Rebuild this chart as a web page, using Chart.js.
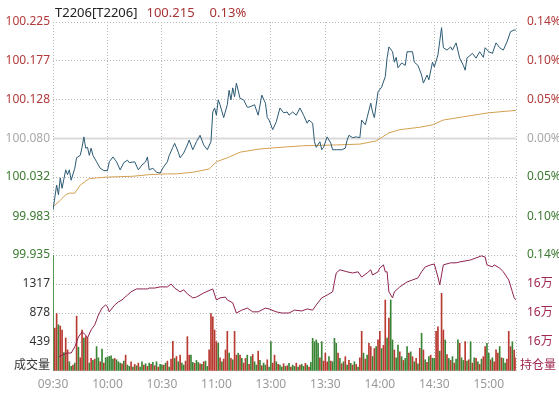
<!DOCTYPE html>
<html>
<head>
<meta charset="utf-8">
<script src="https://cdn.jsdelivr.net/npm/chart.js@4.4.1/dist/chart.umd.min.js"></script>
<style>
  body { margin: 0; background: #fff; }
  #wrap { position: relative; width: 559px; height: 393px; font-family: 'Noto Sans', 'Noto Sans CJK SC', sans-serif; }
  .lbl { position: absolute; font-size: 12px; line-height: 16px; white-space: nowrap; }
</style>
</head>
<body>
<div id="wrap">
  <canvas id="c" width="559" height="393"></canvas>
  <div class="lbl" style="left:55px; top:3px; font-size:13px; line-height:18px;">
    <span id="code" style="color:#222"></span><span id="last" style="color:#a83232; margin-left:9px"></span><span id="chg" style="color:#a83232; margin-left:15px"></span>
  </div>
  <div class="lbl" style="right:509px; top:357px; color:#333">成交量</div>
  <div class="lbl" style="left:520px; top:357px; color:#a0284e">持仓量</div>
</div>
<script>
// header
const contractName = 'T2206[T2206]';
const lastPrice = '100.215';
const lastChange = '0.13%';

// axes
const timeTicks = ['09:30', '10:00', '10:30', '11:00', '13:00', '13:30', '14:00', '14:30', '15:00'];
const prevClose = 100.080;
const priceTicks = [100.225, 100.177, 100.128, 100.080, 100.032, 99.983, 99.935];
const pctLabels = ['0.14%', '0.10%', '0.05%', '0.00%', '0.05%', '0.10%', '0.14%'];
const volTicks = [0, 439, 878, 1317, 1756];
const oiTicks = [160000, 161000, 162000, 163000, 164000];

// last price
const priceSeries = [
  ['09:30', 99.991], ['09:32', 100.022], ['09:33', 100.010], ['09:34', 100.031], ['09:35', 100.018],
  ['09:37', 100.041], ['09:38', 100.035], ['09:39', 100.041], ['09:40', 100.028], ['09:42', 100.043],
  ['09:43', 100.056], ['09:45', 100.059], ['09:46', 100.069], ['09:47', 100.082], ['09:48', 100.068],
  ['09:49', 100.069], ['09:50', 100.059], ['09:51', 100.068], ['09:52', 100.059], ['09:54', 100.051],
  ['09:56', 100.043], ['09:58', 100.040], ['10:00', 100.040], ['10:01', 100.051], ['10:03', 100.057],
  ['10:05', 100.051], ['10:07', 100.041], ['10:09', 100.050], ['10:11', 100.053], ['10:12', 100.050],
  ['10:15', 100.051], ['10:17', 100.041], ['10:19', 100.047], ['10:21', 100.051], ['10:22', 100.057],
  ['10:23', 100.041], ['10:25', 100.043], ['10:27', 100.038], ['10:29', 100.037], ['10:31', 100.045],
  ['10:33', 100.051], ['10:34', 100.059], ['10:36', 100.069], ['10:37', 100.074], ['10:39', 100.063],
  ['10:40', 100.056], ['10:42', 100.062], ['10:44', 100.072], ['10:45', 100.078], ['10:47', 100.066],
  ['10:49', 100.076], ['10:51', 100.084], ['10:53', 100.072], ['10:55', 100.066], ['10:57', 100.076],
  ['10:58', 100.113], ['10:59', 100.118], ['11:00', 100.109], ['11:01', 100.128], ['11:02', 100.122],
  ['11:04', 100.106], ['11:06', 100.122], ['11:07', 100.140], ['11:08', 100.128], ['11:09', 100.143],
  ['11:10', 100.132], ['11:11', 100.149], ['11:13', 100.130], ['11:15', 100.128], ['11:17', 100.119],
  ['11:18', 100.119], ['11:21', 100.122], ['11:23', 100.109], ['11:25', 100.134], ['11:27', 100.124],
  ['11:28', 100.106], ['11:29', 100.103], ['13:01', 100.091], ['13:03', 100.101], ['13:05', 100.118],
  ['13:07', 100.112], ['13:09', 100.113], ['13:10', 100.109], ['13:12', 100.113], ['13:14', 100.109],
  ['13:16', 100.118], ['13:18', 100.109], ['13:20', 100.099], ['13:21', 100.103], ['13:23', 100.099],
  ['13:24', 100.076], ['13:25', 100.069], ['13:27', 100.076], ['13:28', 100.066], ['13:29', 100.069],
  ['13:31', 100.082], ['13:32', 100.078], ['13:33', 100.074], ['13:34', 100.066], ['13:36', 100.066],
  ['13:39', 100.066], ['13:41', 100.068], ['13:42', 100.078], ['13:43', 100.084], ['13:45', 100.081],
  ['13:47', 100.082], ['13:49', 100.081], ['13:50', 100.103], ['13:52', 100.097], ['13:53', 100.106],
  ['13:55', 100.124], ['13:56', 100.113], ['13:57', 100.106], ['13:59', 100.138], ['14:01', 100.144],
  ['14:03', 100.157], ['14:04', 100.180], ['14:05', 100.194], ['14:07', 100.188], ['14:08', 100.175],
  ['14:09', 100.181], ['14:10', 100.168], ['14:12', 100.174], ['14:14', 100.171], ['14:15', 100.188],
  ['14:18', 100.188], ['14:19', 100.175], ['14:21', 100.171], ['14:23', 100.159], ['14:24', 100.149],
  ['14:26', 100.159], ['14:27', 100.153], ['14:29', 100.175], ['14:30', 100.169], ['14:32', 100.184],
  ['14:34', 100.218], ['14:35', 100.193], ['14:37', 100.190], ['14:39', 100.194], ['14:40', 100.190],
  ['14:42', 100.199], ['14:44', 100.180], ['14:46', 100.171], ['14:47', 100.165], ['14:48', 100.180],
  ['14:51', 100.186], ['14:53', 100.180], ['14:55', 100.188], ['14:57', 100.181], ['14:58', 100.193],
  ['15:00', 100.188], ['15:02', 100.186], ['15:04', 100.199], ['15:06', 100.193], ['15:08', 100.190],
  ['15:10', 100.200], ['15:12', 100.213], ['15:14', 100.215], ['15:15', 100.215]
];

// average price
const avgSeries = [
  ['09:30', 99.995], ['09:34', 100.003], ['09:37', 100.010], ['09:39', 100.012], ['09:42', 100.012],
  ['09:45', 100.022], ['09:48', 100.027], ['09:50', 100.030], ['09:54', 100.031], ['10:00', 100.032],
  ['10:14', 100.033], ['10:23', 100.035], ['10:33', 100.036], ['10:38', 100.036], ['10:47', 100.038],
  ['10:56', 100.042], ['11:00', 100.051], ['11:06', 100.056], ['11:13', 100.063], ['11:24', 100.067],
  ['13:05', 100.069], ['13:18', 100.071], ['13:36', 100.072], ['13:49', 100.073], ['13:58', 100.077],
  ['14:05', 100.087], ['14:11', 100.091], ['14:22', 100.094], ['14:29', 100.097], ['14:35', 100.103],
  ['14:46', 100.107], ['15:00', 100.112], ['15:10', 100.114], ['15:15', 100.115]
];

// open interest
const oiSeries = [
  ['09:33', 160480], ['09:35', 160550], ['09:38', 160620], ['09:40', 160620], ['09:42', 160830],
  ['09:44', 161170], ['09:46', 161350], ['09:48', 161240], ['09:49', 161140], ['09:51', 161420],
  ['09:53', 161590], ['09:55', 161930], ['09:57', 162170], ['09:59', 162280], ['10:00', 162210],
  ['10:01', 162040], ['10:04', 162280], ['10:06', 162380], ['10:08', 162450], ['10:11', 162620],
  ['10:13', 162730], ['10:16', 162830], ['10:20', 162830], ['10:22', 162830], ['10:23', 162860],
  ['10:26', 162860], ['10:29', 162900], ['10:33', 162900], ['10:35', 163000], ['10:37', 162860],
  ['10:40', 162730], ['10:42', 162800], ['10:44', 162660], ['10:47', 162520], ['10:49', 162550],
  ['10:53', 162690], ['10:58', 162830], ['11:00', 162450], ['11:02', 162520], ['11:05', 162550],
  ['11:06', 162450], ['11:09', 162350], ['11:11', 162000], ['11:14', 162100], ['11:17', 162170],
  ['11:20', 162040], ['11:23', 162040], ['11:27', 162170], ['11:29', 162140], ['13:03', 162040],
  ['13:06', 162000], ['13:10', 162000], ['13:13', 162100], ['13:17', 162070], ['13:20', 162140],
  ['13:23', 162100], ['13:25', 162280], ['13:28', 162520], ['13:31', 162620], ['13:34', 162730],
  ['13:35', 163070], ['13:36', 163380], ['13:38', 163490], ['13:42', 163420], ['13:45', 163380],
  ['13:48', 163420], ['13:50', 163240], ['13:53', 163380], ['13:55', 163490], ['13:56', 163310],
  ['13:59', 163420], ['14:00', 163550], ['14:02', 163660], ['14:03', 163420], ['14:04', 163420],
  ['14:05', 162730], ['14:07', 162520], ['14:08', 162730], ['14:11', 162900], ['14:15', 163070],
  ['14:18', 163140], ['14:21', 163210], ['14:23', 163420], ['14:25', 163590], ['14:28', 163660],
  ['14:30', 163690], ['14:32', 163240], ['14:33', 162970], ['14:35', 163660], ['14:39', 163730],
  ['14:42', 163730], ['14:44', 163760], ['14:50', 163830], ['14:53', 163900], ['14:56', 163970],
  ['14:58', 163930], ['14:59', 163660], ['15:02', 163590], ['15:03', 163660], ['15:06', 163550],
  ['15:08', 163420], ['15:11', 163140], ['15:13', 162730], ['15:14', 162520], ['15:15', 162450]
];

// volume per minute from 09:30 (u = up minute, d = down minute)
const volume = [
  1750, 650, 870, 700, 680, 620, 280, 500, 320, 140, 70, 90, 120, 830, 360, 200, 620, 500, 520, 500, 120, 190, 160, 180, 370, 200, 140, 330, 120, 200,
  210, 220, 230, 180, 190, 170, 140, 120, 110, 150, 240, 90, 70, 140, 60, 100, 80, 120, 60, 140, 90, 110, 70, 120, 100, 130, 80, 140, 60, 100,
  90, 90, 120, 150, 60, 180, 450, 190, 220, 140, 240, 120, 90, 150, 520, 240, 240, 130, 116, 160, 130, 110, 100, 140, 150, 70, 320, 870, 820, 620,
  444, 420, 200, 140, 180, 318, 600, 270, 190, 170, 600, 240, 270, 240, 190, 120, 190, 240, 100, 220, 250, 140, 90, 300, 160, 80, 120, 90, 170, 60,
  444, 120, 240, 140, 100, 90, 60, 110, 70, 80, 116, 60, 90, 70, 120, 60, 90, 100, 70, 116, 90, 60, 130, 495, 444, 470, 420, 200, 444, 150,
  270, 140, 217, 150, 141, 495, 420, 270, 190, 110, 140, 217, 90, 160, 116, 90, 140, 100, 60, 200, 600, 270, 180, 240, 420, 370, 220, 340, 370, 470,
  600, 340, 390, 1075, 500, 802, 1075, 470, 318, 200, 394, 290, 217, 160, 190, 368, 270, 290, 217, 140, 190, 110, 343, 571, 318, 170, 130, 220, 240, 192,
  192, 600, 670, 300, 1176, 620, 470, 250, 190, 160, 217, 120, 180, 470, 420, 200, 160, 444, 150, 170, 444, 120, 200, 190, 140, 100, 180, 217, 370, 420,
  270, 170, 200, 140, 320, 270, 370, 200, 190, 120, 180, 600, 368, 444, 318, 200
];
const volSide = [
  'duuduuduud', 'dududuuduu', 'dududdudud',
  'ddddudddud', 'uddudududd', 'ududududud',
  'dududuudud', 'udduuuddud', 'dududduuuu',
  'ududuuudud', 'uududuudud', 'uddududdud',
  'duududdudu', 'duddududdu', 'dudddddudu',
  'uududddudu', 'dududududu', 'ududuududu',
  'uduududdud', 'dududdudud', 'ududududud',
  'duuduududu', 'dudduddudu', 'dudududuud',
  'duduuududduuuduu'
].join('');

function minuteOf(t) {
  const [h, m] = t.split(':').map(Number);
  let n = h * 60 + m - 570;
  if (h >= 13) n -= 90;
  return n;
}

function toPoints(series) {
  return series.map(([t, v]) => ({ x: minuteOf(t), y: v }));
}

function priceColor(v) {
  if (Math.abs(v - prevClose) < 1e-9) return '#a8a8a8';
  return v > prevClose ? '#b23a3a' : '#3b7a30';
}

document.getElementById('code').textContent = contractName;
document.getElementById('last').textContent = lastPrice;
document.getElementById('chg').textContent = lastChange;

const font = { family: "'Noto Sans', 'Noto Sans CJK SC', sans-serif", size: 12 };
const gridColor = '#b8b8b8';
const sessionEnd = 255;

new Chart(document.getElementById('c'), {
  type: 'line',
  data: {
    datasets: [
      {
        data: toPoints(priceSeries), yAxisID: 'yP',
        borderColor: '#2b5a74', borderWidth: 1, pointRadius: 0, order: 1
      },
      {
        data: toPoints(avgSeries), yAxisID: 'yP',
        borderColor: '#d4a050', borderWidth: 1, pointRadius: 0, order: 2
      },
      {
        data: toPoints(oiSeries), yAxisID: 'yOI',
        borderColor: '#8e2250', borderWidth: 1, pointRadius: 0, order: 3
      },
      {
        type: 'bar', yAxisID: 'yV', order: 4,
        data: volume.map((v, i) => ({ x: i, y: v })),
        backgroundColor: volume.map((v, i) => volSide[i] === 'u' ? '#b83a30' : '#3a8535'),
        barThickness: 1
      },
      {
        data: [{ x: 0, y: prevClose }, { x: sessionEnd, y: prevClose }], yAxisID: 'yP',
        borderColor: '#dadada', borderWidth: 2, pointRadius: 0, order: 5
      }
    ]
  },
  options: {
    responsive: false,
    animation: false,
    events: [],
    layout: { padding: { top: 22 }, autoPadding: false },
    plugins: { legend: { display: false }, tooltip: { enabled: false } },
    scales: {
      x: {
        type: 'linear', min: 0, max: sessionEnd, offset: false,
        afterBuildTicks: s => { s.ticks = timeTicks.map(t => ({ value: minuteOf(t) })).concat([{ value: sessionEnd }]); },
        ticks: {
          font, color: '#999', padding: 6, maxRotation: 0, autoSkip: false,
          callback: (v, i) => timeTicks[i] || ''
        },
        grid: { color: gridColor, drawTicks: false, offset: false },
        border: { display: false, dash: [1, 2] },
        afterFit: s => { s.height = 22; }
      },
      yP: {
        type: 'linear', position: 'left', stack: 'L', stackWeight: 233, weight: 1,
        min: 99.935, max: 100.225,
        afterBuildTicks: s => { s.ticks = priceTicks.map(v => ({ value: v })); },
        ticks: {
          font, padding: 3, autoSkip: false,
          color: c => priceColor(c.tick.value),
          callback: v => v.toFixed(3)
        },
        grid: { drawTicks: false, color: c => (c.tick && c.tick.value === prevClose) ? 'rgba(0,0,0,0)' : gridColor },
        border: { display: false, dash: [1, 2] },
        afterFit: s => { s.width = 53; }
      },
      yV: {
        type: 'linear', position: 'left', stack: 'L', stackWeight: 116, weight: 0,
        min: 0, max: 1756,
        afterBuildTicks: s => { s.ticks = volTicks.map(v => ({ value: v })); },
        ticks: {
          font, padding: 3, autoSkip: false, color: '#333',
          callback: (v, i) => (i === 0 || i === volTicks.length - 1) ? '' : String(v)
        },
        grid: { drawTicks: false, color: c => c.index === 0 ? 'rgba(0,0,0,0)' : gridColor },
        border: { display: false, dash: [1, 2] },
        afterFit: s => { s.width = 53; }
      },
      yPct: {
        type: 'linear', position: 'right', stack: 'R', stackWeight: 233, weight: 0,
        min: 99.935, max: 100.225,
        afterBuildTicks: s => { s.ticks = priceTicks.map(v => ({ value: v })); },
        ticks: {
          font, padding: 3, autoSkip: false,
          color: c => priceColor(c.tick.value),
          callback: (v, i) => pctLabels[i]
        },
        grid: { display: false },
        border: { display: false },
        afterFit: s => { s.width = 43; }
      },
      yOI: {
        type: 'linear', position: 'right', stack: 'R', stackWeight: 116, weight: 1,
        min: 160000, max: 164000,
        afterBuildTicks: s => { s.ticks = oiTicks.map(v => ({ value: v })); },
        ticks: {
          font, padding: 3, autoSkip: false, color: '#a0284e',
          callback: (v, i) => (i === 0 || i === oiTicks.length - 1) ? '' : Math.round(v / 10000) + '万'
        },
        grid: { display: false },
        border: { display: false },
        afterFit: s => { s.width = 43; }
      }
    }
  }
});
</script>
</body>
</html>
